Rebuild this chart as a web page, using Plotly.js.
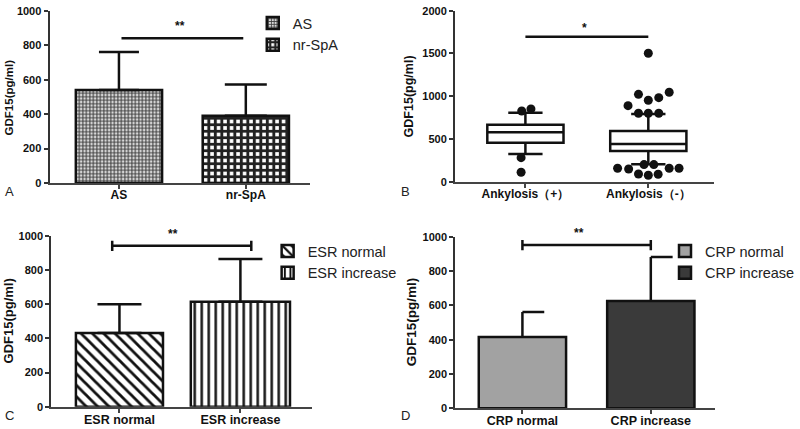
<!DOCTYPE html>
<html><head><meta charset="utf-8">
<script src="https://cdn.plot.ly/plotly-3.0.1.min.js"></script>
<style>html,body{margin:0;padding:0;background:#fff}#chart{width:800px;height:429px}</style>
</head><body><div id="chart"></div>
<script>
// ---------- data ----------
const catsA = ['AS', 'nr-SpA'];
const meanA = [540, 391];
const sdA = [222, 181];
const sigA = 841;
const sigLabelA = '**';

const catsB = ['Ankylosis（+）', 'Ankylosis（-）'];
const q1B = [456, 359];
const medB = [578, 441];
const q3B = [667, 593];
const lowB = [324, 203];
const upB = [807, 792];
const outGroupB = [0, 0, 0, 0, 1, 1, 1, 1, 1, 1, 1, 1, 1, 1, 1, 1, 1, 1, 1, 1, 1, 1];
const outJitterB = [-0.03, 0.045, -0.035, -0.035, 0, -0.08, 0, 0.085, 0.17, -0.165, -0.08, 0, 0.085, -0.25, -0.16, -0.08, 0, 0.08, 0.17, 0.25, -0.035, 0.045];
const outValB = [827, 851, 281, 110, 1502, 1022, 952, 983, 1046, 889, 800, 800, 800, 157, 149, 90, 75, 87, 157, 157, 200, 200];
const sigB = 1696;
const sigLabelB = '*';

const catsC = ['ESR normal', 'ESR increase'];
const meanC = [431, 614];
const sdC = [168, 250];
const sigC = 941;
const sigLabelC = '**';

const catsD = ['CRP normal', 'CRP increase'];
const meanD = [415, 625];
const sdD = [146, 256];
const sigD = 951;
const sigLabelD = '**';

const yTicks100 = [0, 200, 400, 600, 800, 1000];
const yTicksB = [0, 500, 1000, 1500, 2000];
const yTitle = 'GDF15(pg/ml)';
const panelLabels = ['A', 'B', 'C', 'D'];

// ---------- helpers ----------
const W = 800, H = 429;
const FONT = 'Liberation Sans, Arial, sans-serif';
const px = v => v / W;
const py = v => 1 - v / H;
const idx = arr => arr.map((_, i) => i);

function barTrace(x, y, sd, name, xa, ya, marker, legend, errCap) {
  const t = {
    type: 'bar', x: [x], y: [y], name: name, xaxis: xa, yaxis: ya,
    width: 0.68, marker: marker, legend: legend, showlegend: true
  };
  if (errCap !== null) {
    t.error_y = { type: 'data', array: [sd], arrayminus: [0], symmetric: false,
      color: '#111', thickness: 2.5, width: errCap };
  }
  return t;
}
const lineStyle = { color: '#111', width: 2.5 };

const traces = [];
// Panel A
traces.push(barTrace(0, meanA[0], sdA[0], catsA[0], 'x', 'y',
  { color: 'white', line: { color: '#111', width: 2.5 },
    pattern: { shape: '+', size: 3.5, solidity: 0.5, fgcolor: '#3a3a3a', bgcolor: '#d8d8d8', fillmode: 'replace' } }, 'legend', 20));
traces.push(barTrace(1, meanA[1], sdA[1], catsA[1], 'x', 'y',
  { color: 'white', line: { color: '#111', width: 2.5 },
    pattern: { shape: '+', size: 6.5, solidity: 0.7, fgcolor: '#222', bgcolor: 'white', fillmode: 'replace' } }, 'legend', 21));

// Panel B
traces.push({
  type: 'box', x: idx(catsB), q1: q1B, median: medB, q3: q3B,
  lowerfence: lowB, upperfence: upB, boxpoints: false,
  width: 0.62, whiskerwidth: 0.45, fillcolor: 'white',
  line: { color: '#111', width: 2.5 }, xaxis: 'x2', yaxis: 'y2', showlegend: false
});
traces.push({
  type: 'scatter', mode: 'markers', x: outGroupB.map((g, i) => g + outJitterB[i]), y: outValB,
  marker: { color: '#111', size: 9 }, xaxis: 'x2', yaxis: 'y2', showlegend: false
});

// Panel C
const barC0 = barTrace(0, meanC[0], sdC[0], catsC[0], 'x3', 'y3',
  { color: 'white', line: { color: '#111', width: 2.5 },
    pattern: { shape: '\\', size: 8, solidity: 0.35, fgcolor: '#111', bgcolor: 'white', fillmode: 'replace' } }, 'legend2', 22);
barC0.width = 0.72;
const barC1 = barTrace(1, meanC[1], sdC[1], catsC[1], 'x3', 'y3',
  { color: 'white', line: { color: '#111', width: 2.5 },
    pattern: { shape: '|', size: 7, solidity: 0.35, fgcolor: '#111', bgcolor: 'white', fillmode: 'replace' } }, 'legend2', 22);
barC1.width = 0.82;
traces.push(barC0, barC1);

// Panel D
const dColors = ['#a2a2a2', '#3a3a3a'];
catsD.forEach((c, i) => {
  traces.push(barTrace(i, meanD[i], sdD[i], c, 'x4', 'y4',
    { color: dColors[i], line: { color: '#111', width: 2.5 } }, 'legend3', null));
});
// one-sided caps for D error bars
const capD = 0.17;
const exD = [], eyD = [];
meanD.forEach((m, i) => {
  exD.push(i, i, null, i, i + capD, null);
  eyD.push(m, m + sdD[i], null, m + sdD[i], m + sdD[i], null);
});
traces.push({ type: 'scatter', mode: 'lines', x: exD, y: eyD, line: lineStyle,
  xaxis: 'x4', yaxis: 'y4', showlegend: false, hoverinfo: 'skip' });

// significance lines
function sigShapes(xa, ya, y, x0, x1, ends) {
  const s = [{ type: 'line', xref: xa, yref: ya, x0: x0, x1: x1, y0: y, y1: y, line: { color: '#111', width: 2.5 } }];
  if (ends) {
    const d = ends;
    s.push({ type: 'line', xref: xa, yref: ya, x0: x0, x1: x0, y0: y - d, y1: y + d, line: { color: '#111', width: 2.5 } });
    s.push({ type: 'line', xref: xa, yref: ya, x0: x1, x1: x1, y0: y - d, y1: y + d, line: { color: '#111', width: 2.5 } });
  }
  return s;
}
const shapes = [].concat(
  sigShapes('x', 'y', sigA, 0.02, 0.98, 0),
  sigShapes('x2', 'y2', sigB, 0, 1, 0),
  sigShapes('x3', 'y3', sigC, -0.06, 1.09, 30),
  sigShapes('x4', 'y4', sigD, 0, 1, 30)
);

const ann = [];
function sigLabel(xa, ya, x, y, text, dy) {
  ann.push({ xref: xa, yref: ya, x: x, y: y, text: text, showarrow: false,
    yanchor: 'bottom', yshift: dy, font: { family: FONT, size: 12, color: '#111', weight: 'bold' } });
}
sigLabel('x', 'y', 0.48, sigA, sigLabelA, 3);
sigLabel('x2', 'y2', 0.48, sigB, sigLabelB, 0);
sigLabel('x3', 'y3', 0.44, sigC, sigLabelC, 3);
sigLabel('x4', 'y4', 0.44, sigD, sigLabelD, 3);

// axis titles
const titlePos = [[9.5, 97, 11.5], [413, 96, 12.5], [8.5, 321, 13], [415, 322, 13.5]];
titlePos.forEach(p => ann.push({ xref: 'paper', yref: 'paper', x: px(p[0]), y: py(p[1]), text: yTitle,
  textangle: -90, showarrow: false, xanchor: 'center', yanchor: 'middle',
  font: { family: FONT, size: p[2], color: '#111', weight: 'bold' } }));
// panel letters
const letterPos = [[10, 192], [409, 191], [10, 415], [409, 415]];
panelLabels.forEach((t, i) => ann.push({ xref: 'paper', yref: 'paper', x: px(letterPos[i][0]), y: py(letterPos[i][1]),
  text: t, showarrow: false, xanchor: 'center', yanchor: 'middle', font: { family: FONT, size: 13, color: '#222' } }));

function xax(dom, range, cats, anchor, size) {
  return { domain: dom, range: range, anchor: anchor, tickmode: 'array', tickvals: idx(cats), ticktext: cats,
    showline: true, linecolor: '#444', linewidth: 2, ticks: 'outside', ticklen: 4, tickwidth: 2, tickcolor: '#444',
    ticklabelstandoff: -4,
    showgrid: false, zeroline: false, fixedrange: true,
    tickfont: { family: FONT, size: size, color: '#111', weight: 'bold' } };
}
function yax(dom, range, tv, anchor) {
  return { domain: dom, range: range, anchor: anchor, tickmode: 'array', tickvals: tv,
    showline: true, linecolor: '#333', linewidth: 2, ticks: 'outside', ticklen: 4, tickwidth: 2, tickcolor: '#333',
    showgrid: false, zeroline: false, fixedrange: true,
    tickfont: { family: FONT, size: 11, color: '#111', weight: 'bold' } };
}

const legendBase = { bgcolor: 'rgba(0,0,0,0)', font: { family: FONT, size: 14.5, color: '#222' },
  xanchor: 'left', yanchor: 'top', tracegroupgap: 0, itemclick: false, itemdoubleclick: false };

const layout = {
  width: W, height: H, margin: { l: 0, r: 0, t: 0, b: 0 },
  paper_bgcolor: 'white', plot_bgcolor: 'white', barmode: 'overlay', showlegend: true,
  xaxis: xax([px(50), px(313)], [-0.547, 1.508], catsA, 'y', 12),
  yaxis: yax([py(183), py(11)], [0, 1000], yTicks100, 'x'),
  xaxis2: xax([px(459), px(720)], [-0.573, 1.532], catsB, 'y2', 12),
  yaxis2: yax([py(181.7), py(10.7)], [0, 2000], yTicksB, 'x2'),
  xaxis3: xax([px(51.7), px(315)], [-0.564, 1.594], catsC, 'y3', 12.5),
  yaxis3: yax([py(406.7), py(235.7)], [0, 1000], yTicks100, 'x3'),
  xaxis4: xax([px(459.3), px(721.7)], [-0.523, 1.503], catsD, 'y4', 12.5),
  yaxis4: yax([py(408.3), py(236.7)], [0, 1000], yTicks100, 'x4'),
  legend: Object.assign({}, legendBase, { x: px(255), y: py(7) }),
  legend2: Object.assign({}, legendBase, { x: px(270), y: py(235) }),
  legend3: Object.assign({}, legendBase, { x: px(671), y: py(235) }),
  shapes: shapes,
  annotations: ann
};

Plotly.newPlot('chart', traces, layout, { displayModeBar: false, staticPlot: true });
</script>
</body></html>
